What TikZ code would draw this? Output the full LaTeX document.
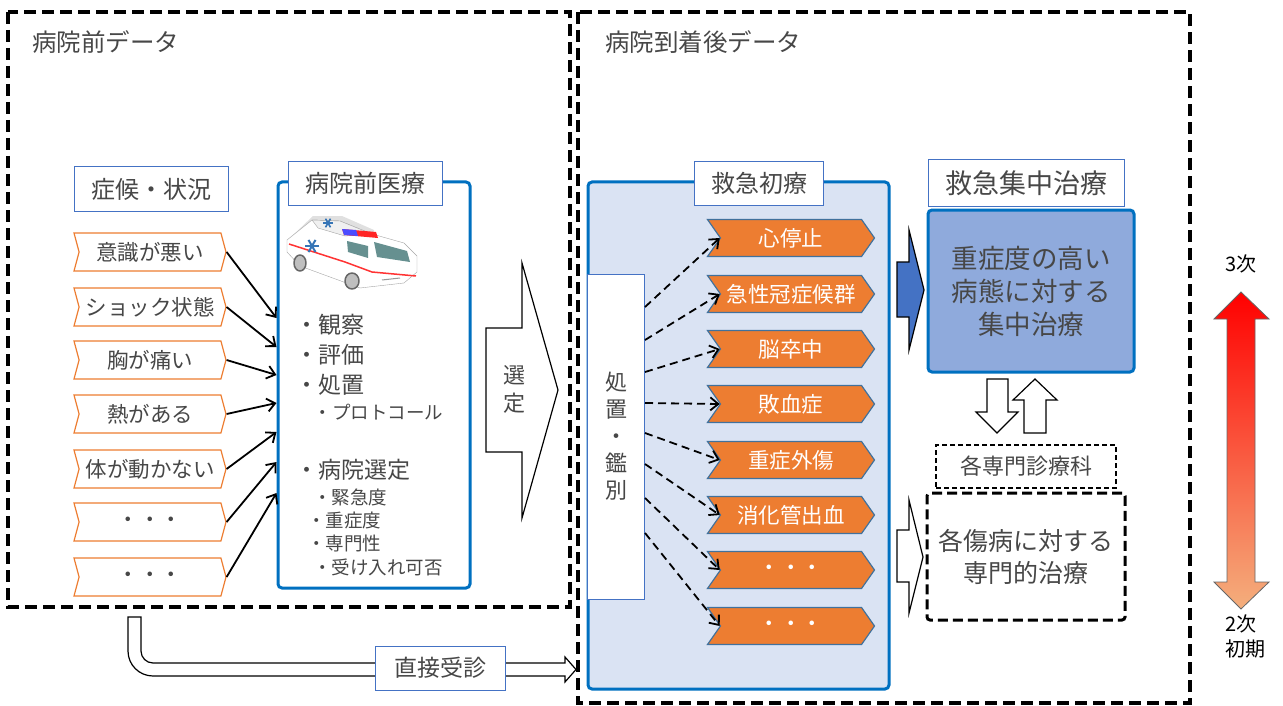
\documentclass[tikz,border=0pt]{standalone}
\usepackage{fontspec}
\setmainfont{Noto Sans CJK JP}
\usetikzlibrary{shapes.symbols,arrows.meta}

\definecolor{txt}{HTML}{474747}
\definecolor{frame}{HTML}{0070C0}
\definecolor{lbl}{HTML}{4472C4}
\definecolor{pale}{HTML}{DAE3F3}
\definecolor{icufill}{HTML}{8FAADC}
\definecolor{org}{HTML}{ED7D31}
\definecolor{orgline}{HTML}{41719C}
\newcommand\fsz[2]{\fontsize{#1}{#2}\selectfont}

\begin{document}
\begin{tikzpicture}[
    x=1pt, y=-1pt,
    every node/.style={text=txt, inner sep=0pt},
    outer/.style={draw=black, line width=3.5pt, dash pattern=on 12pt off 6pt},
    title/.style={anchor=west, font=\fsz{24.5}{28}},
    head/.style={draw=lbl, fill=white, line width=1pt, minimum height=44pt, font=\fsz{24}{28}},
    bluebox/.style={draw=frame, line width=3pt, rounded corners=4pt},
    sym/.style={signal, signal to=east, signal from=west, signal pointer angle=150,
        draw=org, line width=1.2pt, fill=white, minimum width=152pt, minimum height=38pt,
        font=\fsz{21.5}{24}},
    dis/.style={signal, signal to=east, signal from=west, signal pointer angle=110,
        draw=orgline, line width=1.2pt, fill=org, minimum width=167pt, minimum height=37pt,
        text=white, font=\fsz{21.5}{24}},
    item/.style={anchor=west, font=\fsz{23}{26}},
    sub/.style={anchor=west, font=\fsz{18.5}{22}},
    arr/.style={-{Straight Barb[length=8pt,width=13pt]}, line width=1.8pt},
    darr/.style={arr, dash pattern=on 8pt off 5pt},
    block/.style={draw=black, line width=1.2pt, line join=miter},
    lvl/.style={font=\fsz{20}{25}, text=black}
]
\useasboundingbox (0,0) rectangle (1283,706);

% the two data areas
\draw[outer] (8,12) rectangle (570,607);
\draw[outer] (578,12) rectangle (1190,703);
\node[title] (pretitle) at (32,42) {病院前データ};
\node[title] (posttitle) at (605,42) {病院到着後データ};

% symptoms
\node[head, minimum width=154pt] (symhead) at (151,189) {症候・状況};
\node[sym] (s1) at (150,252) {意識が悪い};
\node[sym] (s2) at (150,307) {ショック状態};
\node[sym] (s3) at (150,360) {胸が痛い};
\node[sym] (s4) at (150,414) {熱がある};
\node[sym] (s5) at (150,469) {体が動かない};
\node[sym] (s6) at (150,522) {・・・};
\node[sym] (s7) at (150,577) {・・・};

% prehospital care
\node[bluebox, minimum width=192pt, minimum height=406pt] (pre) at (374,385) {};
\node[head, minimum width=154pt] (prehead) at (365,183.5) {病院前医療};

% ambulance
\begin{scope}[line join=round]
    \fill[black!12] (290,238) -- (313,216) -- (342,216) -- (374,230) -- (374,236) -- (300,248) -- cycle;
    \draw[black!35, fill=white] (287,240) -- (312,220) -- (340,221) -- (372,234) -- (404,243)
        -- (417,256) -- (417,272) -- (404,283) -- (360,288) -- (300,266) -- (287,252) -- cycle;
    \draw[black!35, fill=black!6] (312,220) -- (340,221) -- (372,234) -- (345,236) -- (318,228) -- cycle;
    \fill[black!45!teal!60] (374,242) -- (407,251) -- (410,262) -- (377,257) -- cycle;
    \fill[black!45!teal!60] (347,241) -- (368,246) -- (368,258) -- (348,252) -- cycle;
    \draw[red!80, line width=1.5pt] (289,244) -- (345,262) -- (372,272) -- (416,276);
    \fill[red!85] (342,229) -- (376,232) -- (378,238) -- (344,235) -- cycle;
    \fill[blue!70] (342,229) -- (356,230) -- (358,236) -- (344,235) -- cycle;
    \foreach \a in {0,60,120}
        \draw[lbl!80!teal, line width=2pt] (312,246) ++(\a:7) -- ++(\a+180:14);
    \foreach \a in {0,60,120}
        \draw[lbl!80!teal, line width=1.6pt] (328,223) ++(\a:5) -- ++(\a+180:10);
    \draw[black!60, fill=black!25, line width=1.5pt] (300,263) ellipse [x radius=6, y radius=8];
    \draw[black!60, fill=black!25, line width=1.5pt] (352,281) ellipse [x radius=7, y radius=8];
    \draw[black!40, line width=1pt] (382,280) -- (400,278);
\end{scope}

\node[item] (i1) at (295,325) {・観察};
\node[item] (i2) at (295,355) {・評価};
\node[item] (i3) at (295,385) {・処置};
\node[sub] (i4) at (313.5,412) {・プロトコール};
\node[item] (i5) at (295,470) {・病院選定};
\node[sub] (i6) at (313,497) {・緊急度};
\node[sub] (i7) at (307,520) {・重症度};
\node[sub] (i8) at (307,543) {・専門性};
\node[sub] (i9) at (313,567) {・受け入れ可否};

\foreach \i/\y in {1/318,2/347,3/375,4/403,5/432,6/462,7/493}
    \draw[arr] (s\i.east) -- (pre.west |- 0,\y);

% selection arrow
\draw[block, fill=white] (486,328) -- (522,328) -- (522,263) -- (558,390) -- (522,518)
    -- (522,452) -- (486,452) -- cycle;
\node[font=\fsz{22}{28}, align=center] (sel) at (514,389) {選\\定};

% emergency care
\node[bluebox, fill=pale, minimum width=301pt, minimum height=507pt] (er) at (738.5,435.5) {};
\node[head, minimum width=129pt] (erhead) at (759,183.5) {救急初療};
\node[draw=lbl, fill=white, line width=1pt, minimum width=57pt, minimum height=325pt,
    font=\fsz{22}{27}, align=center] (dif) at (616,436.5) {処\\置\\・\\鑑\\別};

\node[dis] (d1) at (791,238) {心停止};
\node[dis] (d2) at (791,294) {急性冠症候群};
\node[dis] (d3) at (791,349) {脳卒中};
\node[dis] (d4) at (791,404) {敗血症};
\node[dis] (d5) at (791,460) {重症外傷};
\node[dis] (d6) at (791,515) {消化管出血};
\node[dis] (d7) at (791,570) {・・・};
\node[dis] (d8) at (791,626) {・・・};

\foreach \i/\y in {1/307,2/340,3/372,4/403,5/433,6/464,7/498,8/533}
    \draw[darr] (dif.east |- 0,\y) -- (d\i.west);

% intensive care
\draw[block, fill=lbl] (897,262) -- (909,262) -- (909,230) -- (924,290) -- (909,350)
    -- (909,317) -- (897,317) -- cycle;
\node[head, minimum width=196pt, minimum height=46pt, font=\fsz{27}{30}] (icuhead) at (1026,183) {救急集中治療};
\node[bluebox, fill=icufill, minimum width=206pt, minimum height=162pt,
    font=\fsz{26.5}{33}, align=center] (icu) at (1031,291) {重症度の高い\\病態に対する\\集中治療};

\draw[block, fill=white] (987,379) -- (1008,379) -- (1008,412) -- (1018,412) -- (997,433)
    -- (976,412) -- (987,412) -- cycle;
\draw[block, fill=white] (1024,433) -- (1046,433) -- (1046,400) -- (1057,400) -- (1035,379)
    -- (1013,400) -- (1024,400) -- cycle;

% specialist care
\node[draw=black, line width=1.2pt, dash pattern=on 5pt off 3pt, minimum width=180pt,
    minimum height=43pt, font=\fsz{22}{24}] (dept) at (1026,466.5) {各専門診療科};
\draw[block, fill=white] (897,530) -- (909,530) -- (909,500) -- (923,557) -- (909,613)
    -- (909,582) -- (897,582) -- cycle;
\node[draw=black, line width=3pt, dash pattern=on 10pt off 5pt, rounded corners=3pt,
    minimum width=198pt, minimum height=127pt, font=\fsz{25}{32}, align=center] (spec)
    at (1026,556.5) {各傷病に対する\\専門的治療};

% direct visit
\draw[block, fill=white] (128,617) -- (141,617) -- (141,651)
    .. controls (141,657.6) and (146.4,663) .. (153,663) -- (565,663) -- (565,657)
    -- (576,669.5) -- (565,682) -- (565,676) -- (153,676)
    .. controls (139.2,676) and (128,664.8) .. (128,651) -- cycle;
\node[head, minimum width=130pt, font=\fsz{23}{26}] (direct) at (440,668) {直接受診};

% level scale
\shade[top color=red, middle color={rgb,255:red,238;green,100;blue,40},
    bottom color={rgb,255:red,244;green,175;blue,125}]
    (1227,319) -- (1214,319) -- (1241,292) -- (1269,319) -- (1255,319) -- (1255,582)
    -- (1269,582) -- (1241,609) -- (1214,582) -- (1227,582) -- cycle;
\draw[black!60, line width=0.8pt, line join=miter]
    (1227,319) -- (1214,319) -- (1241,292) -- (1269,319) -- (1255,319) -- (1255,582)
    -- (1269,582) -- (1241,609) -- (1214,582) -- (1227,582) -- cycle;
\node[lvl, anchor=west] (top) at (1225,264) {3次};
\node[lvl, anchor=north west, align=left] (bottom) at (1225,615) {2次\\初期};
\end{tikzpicture}
\end{document}
